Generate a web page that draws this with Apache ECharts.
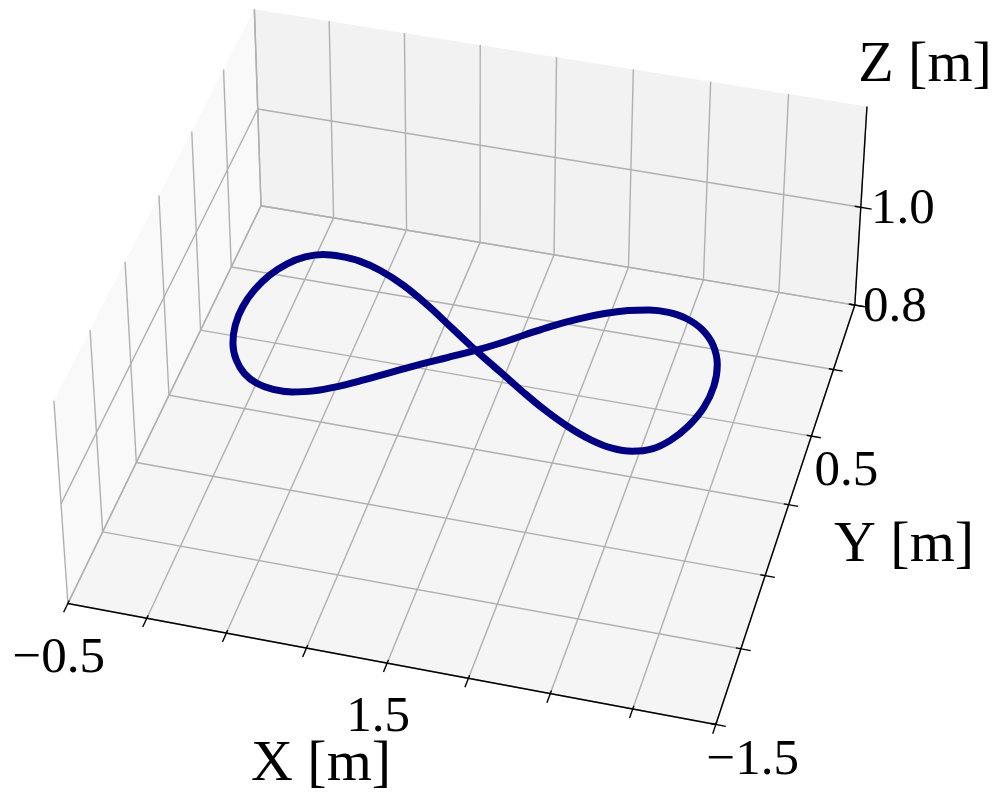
<!DOCTYPE html>
<html>
<head>
<meta charset="utf-8">
<style>html,body{margin:0;padding:0;background:#fff}#main{width:996px;height:802px}</style>
<script src="https://cdn.jsdelivr.net/npm/echarts@6/dist/echarts.min.js"></script>
</head>
<body>
<div id="main"></div>
<script>
// 轨迹 (m)
var pathX = [1.470,1.308,1.111,0.908,0.728,0.577,0.449,0.337,0.236,0.146,0.073,0.024,0.001,0.009,0.047,0.113,0.198,0.299,0.412,0.530,0.653,0.782,0.921,1.066,1.212,1.356,1.496,1.629,1.762,1.900,2.043,2.185,2.318,2.443,2.564,2.684,2.802,2.902,2.968,2.993,2.979,2.928,2.855,2.766,2.656,2.532,2.391,2.230,2.054,1.878,1.725,1.598,1.470];
var pathY = [0.025,0.130,0.257,0.372,0.450,0.492,0.503,0.495,0.456,0.385,0.284,0.162,0.027,-0.110,-0.239,-0.348,-0.430,-0.482,-0.504,-0.499,-0.467,-0.410,-0.333,-0.246,-0.160,-0.081,-0.004,0.078,0.170,0.263,0.346,0.414,0.463,0.493,0.499,0.477,0.418,0.320,0.189,0.037,-0.119,-0.263,-0.378,-0.458,-0.497,-0.500,-0.469,-0.408,-0.322,-0.222,-0.129,-0.053,0.025];
var pathZ = 1.0;

// 刻度
var xTicks = [-0.5,0,0.5,1,1.5,2,2.5,3,3.5];
var yTicks = [-1.5,-1,-0.5,0,0.5,1,1.5];
var zTicks = [0.8,1.0];
var xLabels = [-0.5,1.5];
var yLabels = [-1.5,0.5];
var zLabels = [0.8,1.0];
var xMin = -0.5, xMax = 3.5, yMin = -1.5, yMax = 1.5, zMin = 0.8, zMax = 1.2;

// 相机标定: 世界坐标 -> 屏幕坐标
var calib = [[-0.5,-1.5,0.8,68,604],[3.5,-1.5,0.8,716,725],[3.5,1.5,0.8,855,305],[-0.5,1.5,0.8,261,206],[-0.5,-1.5,1.2,54,401],[3.5,1.5,1.2,867,107],[-0.5,1.5,1.2,254,9],[-0.5,-1.5,1,61,503],[3.5,1.5,1,861,207],[-0.5,1.5,1,258,109],[1.5,-1.5,0.8,387,663],[3.5,0.5,0.8,811,436],[3.5,-0.5,0.8,765,575]];

function norm(x, y, z) {
	return [(x - xMin) / (xMax - xMin), (y - yMin) / (yMax - yMin), (z - zMin) / (zMax - zMin)];
}

function fitCamera() {
	var n = 11, A = [], i, j, k;
	for (i = 0; i < n; i++) A.push(new Array(n + 1).fill(0));
	calib.forEach(function(c) {
		var w = norm(c[0], c[1], c[2]), px = c[3] / 1000, py = c[4] / 1000;
		var rows = [
			[w[0],w[1],w[2],1,0,0,0,0,-px*w[0],-px*w[1],-px*w[2],px],
			[0,0,0,0,w[0],w[1],w[2],1,-py*w[0],-py*w[1],-py*w[2],py]
		];
		rows.forEach(function(r) {
			for (i = 0; i < n; i++) for (j = 0; j <= n; j++) A[i][j] += r[i] * r[j];
		});
	});
	for (i = 0; i < n; i++) {
		var p = i;
		for (k = i + 1; k < n; k++) if (Math.abs(A[k][i]) > Math.abs(A[p][i])) p = k;
		var t = A[i]; A[i] = A[p]; A[p] = t;
		for (k = 0; k < n; k++) {
			if (k == i) continue;
			var f = A[k][i] / A[i][i];
			for (j = i; j <= n; j++) A[k][j] -= f * A[i][j];
		}
	}
	return A.map(function(r, i) { return r[n] / r[i]; });
}
var cam = fitCamera();

function proj(x, y, z) {
	var w = norm(x, y, z);
	var d = cam[8]*w[0] + cam[9]*w[1] + cam[10]*w[2] + 1;
	return [
		1000 * (cam[0]*w[0] + cam[1]*w[1] + cam[2]*w[2] + cam[3]) / d,
		1000 * (cam[4]*w[0] + cam[5]*w[1] + cam[6]*w[2] + cam[7]) / d
	];
}

// 线段 [x1,y1,z1,x2,y2,z2] -> custom series
function segSeries(segs, color, width) {
	return {
		type: 'custom', silent: true, clip: false,
		data: segs.map(function(s) {
			return proj(s[0], s[1], s[2]).concat(proj(s[3], s[4], s[5]));
		}),
		renderItem: function(params, api) {
			var a = api.coord([api.value(0), api.value(1)]);
			var b = api.coord([api.value(2), api.value(3)]);
			return {
				type: 'line',
				shape: { x1: a[0], y1: a[1], x2: b[0], y2: b[1] },
				style: { stroke: color, lineWidth: width, fill: null }
			};
		}
	};
}

function paneSeries(corners, color) {
	var pts = corners.map(function(c) { return proj(c[0], c[1], c[2]); });
	return {
		type: 'custom', silent: true, clip: false,
		data: [[pts[0][0], pts[0][1]]],
		renderItem: function(params, api) {
			return {
				type: 'polygon',
				shape: { points: pts.map(function(p) { return api.coord(p); }) },
				style: { fill: color, stroke: null }
			};
		}
	};
}

// 文字 [x, y, text, fontSize]
function textSeries(items) {
	return {
		type: 'custom', silent: true, clip: false,
		data: items.map(function(d) { return [d[0], d[1]]; }),
		renderItem: function(params, api) {
			var d = items[params.dataIndex];
			var p = api.coord([d[0], d[1]]);
			return {
				type: 'text',
				style: {
					x: p[0], y: p[1], text: d[2], fill: '#000',
					font: d[3] + 'px "Liberation Serif"',
					textAlign: 'center', textVerticalAlign: 'middle'
				}
			};
		}
	};
}

function fmt(v) {
	return (v < 0 ? '\u2212' : '') + Math.abs(v).toFixed(1);
}

var gridSegs = [], axisSegs = [], labels = [];
var tickFontSize = 51, titleFontSize = 58;

xTicks.forEach(function(x) {
	gridSegs.push([x, yMin, zMin, x, yMax, zMin]);
	gridSegs.push([x, yMax, zMin, x, yMax, zMax]);
	axisSegs.push([x, yMin + 0.02, zMin, x, yMin - 0.06, zMin]);
});
yTicks.forEach(function(y) {
	gridSegs.push([xMin, y, zMin, xMax, y, zMin]);
	gridSegs.push([xMin, y, zMin, xMin, y, zMax]);
	axisSegs.push([xMax - 0.03, y, zMin, xMax + 0.06, y, zMin]);
});
zTicks.forEach(function(z) {
	gridSegs.push([xMin, yMin, z, xMin, yMax, z]);
	gridSegs.push([xMin, yMax, z, xMax, yMax, z]);
	axisSegs.push([xMax - 0.04, yMax, z, xMax + 0.07, yMax, z]);
});
axisSegs.push([xMin, yMin, zMin, xMax, yMin, zMin]);
axisSegs.push([xMax, yMin, zMin, xMax, yMax, zMin]);
axisSegs.push([xMax, yMax, zMin, xMax, yMax, zMax]);

xLabels.forEach(function(x) {
	var p = proj(x, yMin, zMin);
	labels.push([p[0] - 9, p[1] + 55, fmt(x), tickFontSize]);
});
yLabels.forEach(function(y) {
	var p = proj(xMax, y, zMin);
	labels.push([p[0] + 35 + (y < 0 ? 2 : 0), p[1] + 36, fmt(y), tickFontSize]);
});
zLabels.forEach(function(z) {
	var p = proj(xMax, yMax, z);
	labels.push([p[0] + 40 + (z > 0.9 ? 2 : 0), p[1] + 2.5, fmt(z), tickFontSize]);
});
labels.push([321, 765, 'X [m]', titleFontSize]);
labels.push([904, 546, 'Y [m]', titleFontSize]);
labels.push([925, 66, 'Z [m]', titleFontSize]);

var pathPoints = pathX.map(function(x, i) { return proj(x, pathY[i], pathZ); });

var myChart = echarts.init(document.getElementById('main'), null, { renderer: 'canvas' });
var option = {
	animation: false,
	backgroundColor: '#fff',
	grid: { left: 0, right: 0, top: 0, bottom: 0 },
	xAxis: { type: 'value', min: 0, max: 996, show: false },
	yAxis: { type: 'value', min: 0, max: 802, inverse: true, show: false },
	series: [
		paneSeries([[xMin,yMin,zMin],[xMin,yMax,zMin],[xMin,yMax,zMax],[xMin,yMin,zMax]], '#f9f9f9'),
		paneSeries([[xMin,yMax,zMin],[xMax,yMax,zMin],[xMax,yMax,zMax],[xMin,yMax,zMax]], '#f2f2f2'),
		paneSeries([[xMin,yMin,zMin],[xMax,yMin,zMin],[xMax,yMax,zMin],[xMin,yMax,zMin]], '#f5f5f5'),
		segSeries(gridSegs, '#b0b0b0', 1.4),
		segSeries(axisSegs, '#000', 1.4),
		{
			type: 'line', data: pathPoints, showSymbol: false, smooth: 0.4, silent: true, clip: false,
			lineStyle: { color: '#000080', width: 7 }
		},
		textSeries(labels)
	]
};
myChart.setOption(option);
</script>
</body>
</html>
